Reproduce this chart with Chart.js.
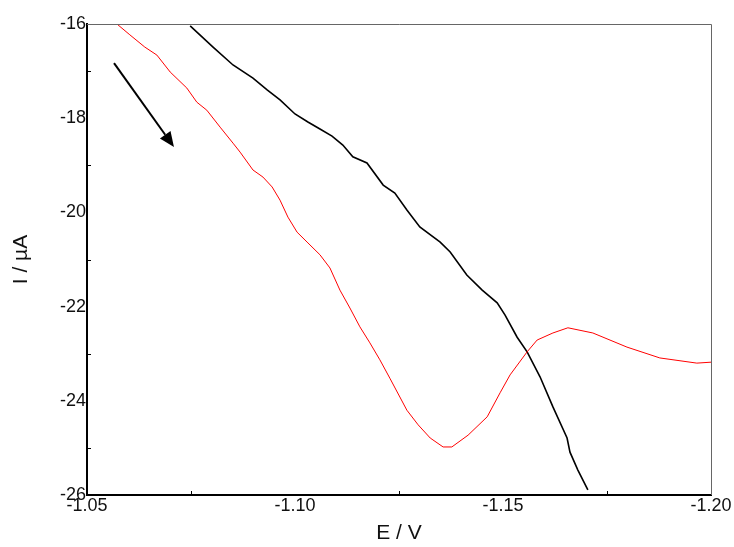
<!DOCTYPE html>
<html>
<head>
<meta charset="utf-8">
<script src="https://cdn.jsdelivr.net/npm/chart.js@4/dist/chart.umd.min.js"></script>
<style>
  body { margin: 0; background: #fff; }
</style>
</head>
<body>
<canvas id="myChart" width="734" height="547"></canvas>
<script>
// values, E in V and I in uA
var redE = [-1.0555, -1.0572, -1.0603, -1.0639, -1.0668, -1.0700, -1.0740, -1.0764, -1.0788, -1.0820,
            -1.0851, -1.0868, -1.0899, -1.0923, -1.0945, -1.0964, -1.0983, -1.1005, -1.1029, -1.1060,
            -1.1084, -1.1108, -1.1132, -1.1156, -1.1180, -1.1204, -1.1228, -1.1269, -1.1296, -1.1325,
            -1.1356, -1.1377, -1.1416, -1.1462, -1.1493, -1.1517, -1.1558, -1.1582, -1.1620, -1.1656,
            -1.1716, -1.1798, -1.1877, -1.1966, -1.2000];
var redI = [-15.85, -16.00, -16.23, -16.49, -16.66, -17.02, -17.36, -17.66, -17.83, -18.19,
            -18.53, -18.72, -19.10, -19.25, -19.46, -19.74, -20.10, -20.42, -20.63, -20.90,
            -21.18, -21.65, -22.03, -22.43, -22.77, -23.13, -23.52, -24.20, -24.51, -24.79,
            -24.98, -24.98, -24.73, -24.34, -23.83, -23.45, -22.96, -22.71, -22.56, -22.45,
            -22.56, -22.86, -23.09, -23.20, -23.18];

var blackE = [-1.0748, -1.0803, -1.0851, -1.0899, -1.0933, -1.0964, -1.1000, -1.1031, -1.1060, -1.1089,
              -1.1115, -1.1139, -1.1173, -1.1212, -1.1240, -1.1269, -1.1300, -1.1349, -1.1373, -1.1413,
              -1.1450, -1.1486, -1.1505, -1.1534, -1.1558, -1.1589, -1.1620, -1.1654, -1.1661, -1.1680,
              -1.1704];
var blackI = [-16.04, -16.49, -16.87, -17.15, -17.40, -17.61, -17.91, -18.08, -18.23, -18.38,
              -18.57, -18.82, -18.95, -19.42, -19.59, -19.95, -20.31, -20.63, -20.84, -21.33,
              -21.65, -21.92, -22.18, -22.65, -22.96, -23.49, -24.13, -24.79, -25.09, -25.47,
              -25.89];

// arrow showing scan direction, tail then tip
var arrowE = [-1.0565, -1.0709];
var arrowI = [-16.83, -18.61];

var xMin = -1.20, xMax = -1.05;
var yMin = -26, yMax = -16;

function toPoints(xs, ys) {
    var pts = [];
    for (var i = 0; i < xs.length; i += 1) {
        pts.push({ x: xs[i], y: ys[i] });
    }
    return pts;
}

function isMajorX(v) {
    return Math.abs(Math.round(v * 1000)) % 50 == 0;
}

function isMajorY(v) {
    return Math.abs(Math.round(v)) % 2 == 0;
}

// frame on top and right, small inside ticks, and the arrow
var extras = {
    id: "extras",
    afterDraw: function (chart) {
        var ctx = chart.ctx;
        var a = chart.chartArea;
        var xs = chart.scales.x;
        var ys = chart.scales.y;
        ctx.save();

        ctx.strokeStyle = "#666";
        ctx.lineWidth = 1;
        ctx.beginPath();
        ctx.moveTo(a.left, a.top + 0.5);
        ctx.lineTo(a.right + 0.5, a.top + 0.5);
        ctx.lineTo(a.right + 0.5, a.bottom);
        ctx.stroke();

        ctx.strokeStyle = "#000";
        ctx.lineWidth = 1;
        ctx.beginPath();
        xs.ticks.forEach(function (t) {
            if (!isMajorX(t.value)) {
                var px = Math.round(xs.getPixelForValue(t.value)) + 0.5;
                ctx.moveTo(px, a.bottom);
                ctx.lineTo(px, a.bottom - 4);
            }
        });
        ys.ticks.forEach(function (t) {
            if (!isMajorY(t.value)) {
                var py = Math.round(ys.getPixelForValue(t.value)) + 0.5;
                ctx.moveTo(a.left, py);
                ctx.lineTo(a.left + 4, py);
            }
        });
        ctx.stroke();

        // arrow
        var x0 = xs.getPixelForValue(arrowE[0]), y0 = ys.getPixelForValue(arrowI[0]);
        var x1 = xs.getPixelForValue(arrowE[1]), y1 = ys.getPixelForValue(arrowI[1]);
        var ang = Math.atan2(y1 - y0, x1 - x0);
        var hl = 15, hw = 6.5;
        var bx = x1 - hl * Math.cos(ang), by = y1 - hl * Math.sin(ang);
        ctx.lineWidth = 2;
        ctx.beginPath();
        ctx.moveTo(x0, y0);
        ctx.lineTo(bx, by);
        ctx.stroke();
        ctx.fillStyle = "#000";
        ctx.beginPath();
        ctx.moveTo(x1, y1);
        ctx.lineTo(bx + hw * Math.sin(ang), by - hw * Math.cos(ang));
        ctx.lineTo(bx - hw * Math.sin(ang), by + hw * Math.cos(ang));
        ctx.closePath();
        ctx.fill();

        ctx.restore();
    }
};

var fontFam = "'Liberation Sans', Arial, sans-serif";

new Chart("myChart", {
    type: "scatter",
    data: {
        datasets: [
            {
                data: toPoints(redE, redI),
                showLine: true,
                borderColor: "rgb(255,0,0)",
                borderWidth: 1,
                pointRadius: 0,
                tension: 0
            },
            {
                data: toPoints(blackE, blackI),
                showLine: true,
                borderColor: "#000",
                borderWidth: 1.6,
                pointRadius: 0,
                tension: 0
            }
        ]
    },
    options: {
        responsive: false,
        animation: false,
        events: [],
        layout: { padding: { left: 0, top: 24, right: 23, bottom: 0 } },
        plugins: {
            legend: { display: false },
            tooltip: { enabled: false }
        },
        scales: {
            x: {
                type: "linear",
                reverse: true,
                min: xMin,
                max: xMax,
                afterFit: function (s) { s.height = 52; },
                grid: { display: true, drawOnChartArea: false, drawTicks: false },
                border: { color: "#000", width: 2 },
                ticks: {
                    stepSize: 0.025,
                    autoSkip: false,
                    maxRotation: 0,
                    padding: 0,
                    color: "#111",
                    font: { family: fontFam, size: 18 },
                    callback: function (v) { return isMajorX(v) ? v.toFixed(2) : ""; }
                },
                title: {
                    display: true,
                    text: "E / V",
                    color: "#111",
                    font: { family: fontFam, size: 21 },
                    padding: { top: 0, bottom: 1 }
                }
            },
            y: {
                min: yMin,
                max: yMax,
                afterFit: function (s) { s.width = 87; },
                grid: { display: true, drawOnChartArea: false, drawTicks: false },
                border: { color: "#000", width: 2 },
                ticks: {
                    stepSize: 1,
                    autoSkip: false,
                    padding: 1,
                    color: "#111",
                    font: { family: fontFam, size: 18 },
                    callback: function (v) { return isMajorY(v) ? String(v) : ""; }
                },
                title: {
                    display: true,
                    text: "I / µA",
                    color: "#111",
                    font: { family: fontFam, size: 21 },
                    padding: { top: 9, bottom: 0 }
                }
            }
        }
    },
    plugins: [extras]
});
</script>
</body>
</html>
